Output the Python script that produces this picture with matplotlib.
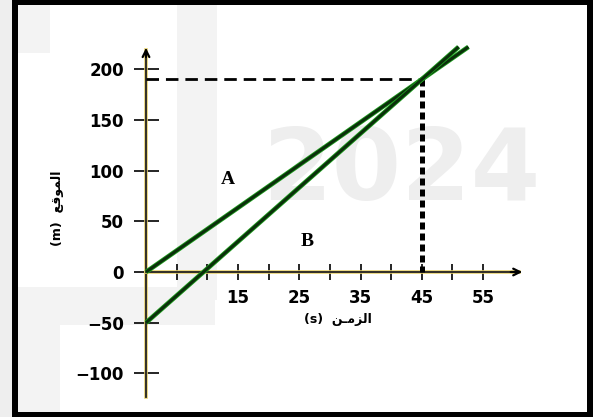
import matplotlib
matplotlib.use("Agg")
import matplotlib.pyplot as plt
import matplotlib.patheffects as pe
from matplotlib.patches import Rectangle

# position-time data for the two bodies (t in s, x in m)
t_A = [0, 45, 52.6]
x_A = [0, 190, 222]
t_B = [0, 45, 51.0]
x_B = [-50, 190, 222]
t_meet = 45
x_meet = 190

yticks = [-100, -50, 0, 50, 100, 150, 200]
xticks = [5, 10, 15, 20, 25, 30, 35, 40, 45, 50, 55]
xtick_labels = ["", "", "15", "", "25", "", "35", "", "45", "", "55"]

# Arabic labels written as presentation forms in display order
xlabel_ar = "\uFEE6\u0640\uFEE3\uFEB0\uFEDF\uFE8D"   # الزمن
ylabel_ar = "\uFECA\uFED7\uFEEE\uFEE4\uFEDF\uFE8D"   # الموقع

W, H = 598, 417
fig = plt.figure(figsize=(W / 100, H / 100), dpi=100)
fig.patch.set_facecolor("white")


def box(x0, y0, x1, y1, color, z=0):
    fig.patches.append(Rectangle((x0 / W, 1 - y1 / H), (x1 - x0) / W, (y1 - y0) / H,
                                 transform=fig.transFigure, facecolor=color,
                                 edgecolor="none", zorder=z))


# faint background watermark
box(0, 0, 12, H, "#eeeeee")
box(18, 5, 50, 53, "#f3f3f3")
box(177, 5, 217, 300, "#f3f3f3")
box(18, 287, 215, 325, "#f3f3f3")
box(18, 325, 60, 412, "#f3f3f3")
fig.text(262 / W, 1 - 200 / H, "2024", fontsize=72, fontweight="bold",
         color="#eeeeee", zorder=0.5)

# black frame
box(12, 0, 593, 5, "black", 5)
box(12, 412, 593, H, "black", 5)
box(12, 0, 18, H, "black", 5)
box(587, 0, 593, H, "black", 5)

# axes placed so that x=0 sits at px 146 and y=0 at px 272
xl, xr = -2, 62
yb, yt = -125, 225
sx, sy = 6.13, 1.014
left = (146 + sx * xl) / W
right = (146 + sx * xr) / W
bottom = 1 - (272 - sy * yb) / H
top = 1 - (272 - sy * yt) / H
ax = fig.add_axes([left, bottom, right - left, top - bottom])
ax.set_zorder(2)
ax.patch.set_alpha(0)
ax.set_xlim(xl, xr)
ax.set_ylim(yb, yt)

for s in ["top", "right"]:
    ax.spines[s].set_visible(False)
halo = [pe.Stroke(linewidth=2.6, foreground="#e6cf6a"), pe.Normal()]
ax.spines["left"].set_position(("data", 0))
ax.spines["bottom"].set_position(("data", 0))
ax.spines["left"].set_bounds(-123, 219)
ax.spines["bottom"].set_bounds(0, 60.8)
for s in ["left", "bottom"]:
    ax.spines[s].set_color("#222222")
    ax.spines[s].set_linewidth(1.3)
    ax.spines[s].set_path_effects(halo)

ax.annotate("", xy=(61.4, 0), xytext=(59.5, 0),
            arrowprops=dict(arrowstyle="->", lw=1.6, color="black",
                            shrinkA=0, shrinkB=0, mutation_scale=12))
ax.annotate("", xy=(0, 221), xytext=(0, 212),
            arrowprops=dict(arrowstyle="->", lw=1.6, color="black",
                            shrinkA=0, shrinkB=0, mutation_scale=12))

ax.set_yticks(yticks)
ax.set_xticks(xticks, labels=xtick_labels)
ax.tick_params(axis="y", direction="inout", length=18, width=1.2, pad=7,
               labelsize=12, colors="black")
ax.tick_params(axis="x", direction="inout", length=12, width=1.2, pad=6.5,
               labelsize=12, colors="black")
for lab in ax.get_xticklabels() + ax.get_yticklabels():
    lab.set_fontweight("bold")

# guide lines to the meeting point
ax.plot([0, t_meet], [x_meet, x_meet], color="black", lw=2, dashes=(4.5, 2.5), zorder=3)
ax.plot([t_meet, t_meet], [x_meet, 0], color="black", lw=3.6, dashes=(1.4, 0.8), zorder=3)

# the two motion lines
green = [pe.Stroke(linewidth=3.4, foreground="#1f9e1f"), pe.Normal()]
ax.plot(t_A, x_A, color="#0a300a", lw=2.2, path_effects=green, zorder=4,
        solid_capstyle="butt")
ax.plot(t_B, x_B, color="#0a300a", lw=2.2, path_effects=green, zorder=4,
        solid_capstyle="butt")

ax.text(13.4, 91, "A", fontsize=14, fontweight="bold", family="Liberation Serif",
        ha="center", va="center")
ax.text(26.3, 30, "B", fontsize=14, fontweight="bold", family="Liberation Serif",
        ha="center", va="center")

fig.text(338 / W, 1 - 320 / H, "(s)  " + xlabel_ar, fontsize=9, fontweight="bold",
         family="DejaVu Sans", ha="center", va="center", zorder=3)
fig.text(58 / W, 1 - 208 / H, "(m)  " + ylabel_ar, fontsize=9, fontweight="bold",
         family="DejaVu Sans", ha="center", va="center", rotation=90, zorder=3)

fig.savefig("out.png", dpi=100)
